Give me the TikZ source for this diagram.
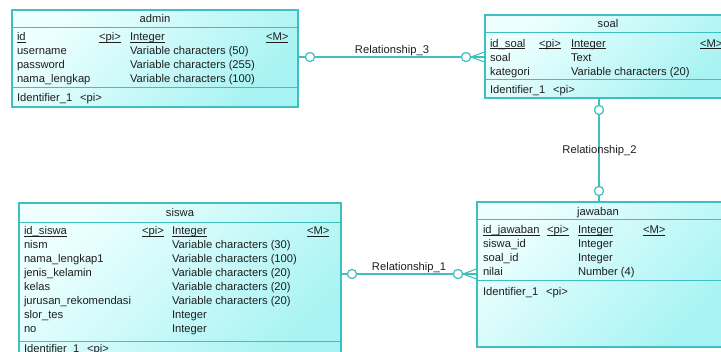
\documentclass[tikz,border=0pt]{standalone}
\usepackage{fontspec}
\setmainfont{Liberation Sans}
\definecolor{erline}{HTML}{3EC0C0}
\definecolor{erlight}{HTML}{EEFFFF}
\definecolor{erdark}{HTML}{A8F3F3}
\definecolor{ertext}{HTML}{1E1E1E}
% underline at a fixed depth below the baseline, as for key attributes
\newcommand\keyline[1]{\setbox0\hbox{#1}\rlap{\rule[-1.9pt]{\wd0}{0.7pt}}\box0}
\begin{document}
\begin{tikzpicture}[x=1pt,y=-1pt,
  font=\fontsize{11.2}{14}\selectfont, text=ertext,
  entity/.style={draw=erline, line width=1.1pt, rectangle, inner sep=0pt,
    top color=erlight, bottom color=erdark, shading angle=45},
  sepline/.style={draw=erline, line width=1.1pt},
  txt/.style={anchor=base west, inner sep=0pt, outer sep=0pt},
  ttl/.style={anchor=base, inner sep=0pt, outer sep=0pt},
  rel/.style={draw=erline, line width=1.1pt},
  ring/.style={circle, draw=erline, fill=white, line width=1.1pt,
    minimum size=9pt, inner sep=0pt},
  rellabel/.style={anchor=base, inner sep=0pt}]
\useasboundingbox (0,0) rectangle (721,352);
\clip (0,0) rectangle (721,352);

% ---------------- admin ----------------
\node[entity, minimum width=286pt, minimum height=97pt] (admin) at (155,58.5) {};
\draw[sepline] (admin.north west) ++(0,18) -- ++(286,0);
\draw[sepline] (admin.north west) ++(0,78) -- ++(286,0);
\node[ttl] (admin-t) at (155,23) {admin};
\node[txt] (admin-n1) at (17,41) {\keyline{id}};
\node[txt] (admin-p1) at (99,41) {\keyline{<pi>}};
\node[txt] (admin-d1) at (130,41) {\keyline{Integer}};
\node[txt] (admin-m1) at (266,41) {\keyline{<M>}};
\node[txt] (admin-n2) at (17,55) {username};
\node[txt] (admin-d2) at (130,55) {Variable characters (50)};
\node[txt] (admin-n3) at (17,69) {password};
\node[txt] (admin-d3) at (130,69) {Variable characters (255)};
\node[txt] (admin-n4) at (17,83) {nama\_lengkap};
\node[txt] (admin-d4) at (130,83) {Variable characters (100)};
\node[txt] (admin-i) at (17,102) {Identifier\_1};
\node[txt] (admin-ip) at (80,102) {<pi>};

% ---------------- soal ----------------
\node[entity, minimum width=246pt, minimum height=83pt] (soal) at (608,56.5) {};
\draw[sepline] (soal.north west) ++(0,18) -- ++(246,0);
\draw[sepline] (soal.north west) ++(0,65) -- ++(246,0);
\node[ttl] (soal-t) at (608,28) {soal};
\node[txt] (soal-n1) at (490,47.3) {\keyline{id\_soal}};
\node[txt] (soal-p1) at (539,47.3) {\keyline{<pi>}};
\node[txt] (soal-d1) at (571,47.3) {\keyline{Integer}};
\node[txt] (soal-m1) at (700,47.3) {\keyline{<M>}};
\node[txt] (soal-n2) at (490,61.3) {soal};
\node[txt] (soal-d2) at (571,61.3) {Text};
\node[txt] (soal-n3) at (490,75.3) {kategori};
\node[txt] (soal-d3) at (571,75.3) {Variable characters (20)};
\node[txt] (soal-i) at (490,93.3) {Identifier\_1};
\node[txt] (soal-ip) at (553,93.3) {<pi>};

% ---------------- siswa ----------------
\node[entity, minimum width=322pt, minimum height=167pt] (siswa) at (180,286.5) {};
\draw[sepline] (siswa.north west) ++(0,20) -- ++(322,0);
\draw[sepline] (siswa.north west) ++(0,139) -- ++(322,0);
\node[ttl] (siswa-t) at (180,216.5) {siswa};
\node[txt] (siswa-n1) at (24,234.5) {\keyline{id\_siswa}};
\node[txt] (siswa-p1) at (142,234.5) {\keyline{<pi>}};
\node[txt] (siswa-d1) at (172,234.5) {\keyline{Integer}};
\node[txt] (siswa-m1) at (307,234.5) {\keyline{<M>}};
\node[txt] (siswa-n2) at (24,248.5) {nism};
\node[txt] (siswa-d2) at (172,248.5) {Variable characters (30)};
\node[txt] (siswa-n3) at (24,262.5) {nama\_lengkap1};
\node[txt] (siswa-d3) at (172,262.5) {Variable characters (100)};
\node[txt] (siswa-n4) at (24,276.5) {jenis\_kelamin};
\node[txt] (siswa-d4) at (172,276.5) {Variable characters (20)};
\node[txt] (siswa-n5) at (24,290.5) {kelas};
\node[txt] (siswa-d5) at (172,290.5) {Variable characters (20)};
\node[txt] (siswa-n6) at (24,304.5) {jurusan\_rekomendasi};
\node[txt] (siswa-d6) at (172,304.5) {Variable characters (20)};
\node[txt] (siswa-n7) at (24,318.5) {slor\_tes};
\node[txt] (siswa-d7) at (172,318.5) {Integer};
\node[txt] (siswa-n8) at (24,332.5) {no};
\node[txt] (siswa-d8) at (172,332.5) {Integer};
\node[txt] (siswa-i) at (24,353) {Identifier\_1};
\node[txt] (siswa-ip) at (87,353) {<pi>};

% ---------------- jawaban ----------------
\node[entity, minimum width=247pt, minimum height=145pt] (jawaban) at (600.5,274.5) {};
\draw[sepline] (jawaban.north west) ++(0,18) -- ++(247,0);
\draw[sepline] (jawaban.north west) ++(0,79) -- ++(247,0);
\node[ttl] (jawaban-t) at (598,216) {jawaban};
\node[txt] (jawaban-n1) at (483,234) {\keyline{id\_jawaban}};
\node[txt] (jawaban-p1) at (547,234) {\keyline{<pi>}};
\node[txt] (jawaban-d1) at (578,234) {\keyline{Integer}};
\node[txt] (jawaban-m1) at (643,234) {\keyline{<M>}};
\node[txt] (jawaban-n2) at (483,248) {siswa\_id};
\node[txt] (jawaban-d2) at (578,248) {Integer};
\node[txt] (jawaban-n3) at (483,262) {soal\_id};
\node[txt] (jawaban-d3) at (578,262) {Integer};
\node[txt] (jawaban-n4) at (483,276) {nilai};
\node[txt] (jawaban-d4) at (578,276) {Number (4)};
\node[txt] (jawaban-i) at (483,296) {Identifier\_1};
\node[txt] (jawaban-ip) at (546,296) {<pi>};

% ---------------- Relationship_3 : admin -- soal ----------------
\node[ring] (r3a) at (310,57) {};
\node[ring] (r3b) at (466,57) {};
\coordinate (r3f) at (soal.west |- r3b);
\draw[rel] (admin.east |- r3a) -- (r3a) -- (r3b);
\draw[rel] ([yshift=5pt]r3f) -- (r3b.east) -- ([yshift=-5pt]r3f);
\draw[rel] (r3b.east) -- (r3f);
\node[ring] at (r3a) {};
\node[ring] at (r3b) {};
\node[rellabel] (r3l) at (392,54) {Relationship\_3};

% ---------------- Relationship_2 : soal -- jawaban ----------------
\node[ring] (r2a) at (599,110) {};
\node[ring] (r2b) at (599,191) {};
\draw[rel] (soal.south -| r2a) -- (r2a) -- (r2b) -- (jawaban.north -| r2b);
\node[ring] at (r2a) {};
\node[ring] at (r2b) {};
\node[rellabel] (r2l) at (599.5,154) {Relationship\_2};

% ---------------- Relationship_1 : siswa -- jawaban ----------------
\node[ring] (r1a) at (352,274) {};
\node[ring] (r1b) at (458,274) {};
\coordinate (r1f) at (jawaban.west |- r1b);
\draw[rel] (siswa.east |- r1a) -- (r1a) -- (r1b);
\draw[rel] ([yshift=5pt]r1f) -- (r1b.east) -- ([yshift=-5pt]r1f);
\draw[rel] (r1b.east) -- (r1f);
\node[ring] at (r1a) {};
\node[ring] at (r1b) {};
\node[rellabel] (r1l) at (409,271) {Relationship\_1};
\end{tikzpicture}
\end{document}
